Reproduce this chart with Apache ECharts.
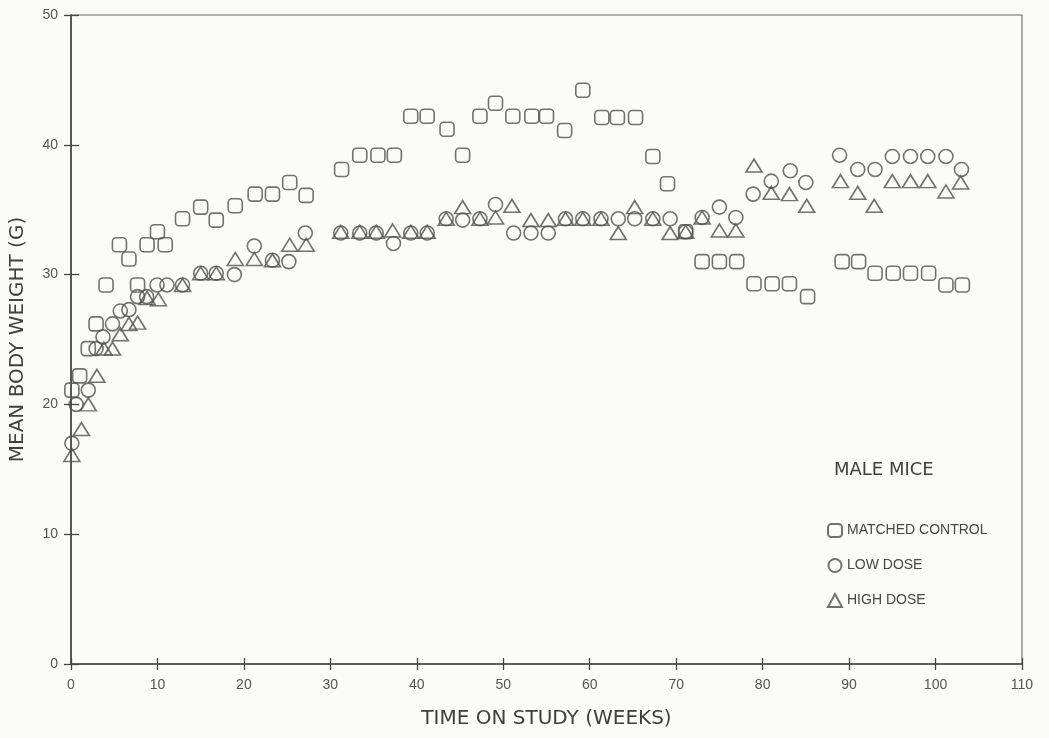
<!DOCTYPE html>
<html>
<head>
<meta charset="utf-8">
<script src="https://cdn.jsdelivr.net/npm/echarts@6/dist/echarts.min.js"></script>
<style>
html,body{margin:0;padding:0;background:#fbfbf8;}
#c{width:1049px;height:738px;}
</style>
</head>
<body>
<div id="c"></div>
<script>
// ---- data (weeks on study, mean body weight in g) ----
const controlWeeks = [0.1,1.0,2.0,2.9,4.05,5.6,6.7,7.7,8.8,10.0,10.9,12.9,15.0,16.8,19.0,21.3,23.3,25.3,27.2,31.3,33.4,35.5,37.4,39.3,41.2,43.5,45.3,47.3,49.1,51.1,53.3,55.0,57.1,59.2,61.4,63.2,65.3,67.3,69.0,71.1,73.0,75.0,77.0,79.0,81.1,83.1,85.2,89.2,91.1,93.0,95.1,97.1,99.2,101.2,103.1];
const controlWeight = [21.1,22.2,24.3,26.2,29.2,32.3,31.2,29.2,32.3,33.3,32.3,34.3,35.2,34.2,35.3,36.2,36.2,37.1,36.1,38.1,39.2,39.2,39.2,42.2,42.2,41.2,39.2,42.2,43.2,42.2,42.2,42.2,41.1,44.2,42.1,42.1,42.1,39.1,37.0,33.3,31.0,31.0,31.0,29.3,29.3,29.3,28.3,31.0,31.0,30.1,30.1,30.1,30.1,29.2,29.2];

const lowWeeks = [0.1,0.6,2.0,2.9,3.7,4.8,5.7,6.7,7.7,8.75,9.95,11.1,12.9,15.0,16.8,18.9,21.2,23.3,25.2,27.1,31.2,33.4,35.3,37.3,39.3,41.2,43.4,45.3,47.3,49.1,51.2,53.2,55.2,57.2,59.2,61.3,63.3,65.2,67.3,69.3,71.1,73.0,75.0,76.9,78.9,81.0,83.2,85.0,88.9,91.0,93.0,95.0,97.1,99.1,101.2,103.0];
const lowWeight = [17.0,20.0,21.1,24.3,25.2,26.2,27.2,27.3,28.3,28.3,29.2,29.2,29.2,30.1,30.1,30.0,32.2,31.1,31.0,33.2,33.2,33.2,33.2,32.4,33.2,33.2,34.3,34.2,34.3,35.4,33.2,33.2,33.2,34.3,34.3,34.3,34.3,34.3,34.3,34.3,33.3,34.4,35.2,34.4,36.2,37.2,38.0,37.1,39.2,38.1,38.1,39.1,39.1,39.1,39.1,38.1];

const highWeeks = [0.1,1.2,2.0,3.0,3.8,4.8,5.7,6.7,7.7,8.8,10.1,12.9,15.0,16.8,19.0,21.2,23.3,25.3,27.2,31.2,33.4,35.3,37.2,39.3,41.2,43.4,45.3,47.3,49.1,51.0,53.2,55.2,57.2,59.2,61.3,63.3,65.2,67.3,69.3,71.1,73.0,75.0,76.9,79.0,81.0,83.1,85.1,89.0,91.0,92.9,95.0,97.1,99.1,101.2,102.9];
const highWeight = [16.1,18.1,20.0,22.2,24.3,24.3,25.4,26.2,26.3,28.2,28.1,29.2,30.1,30.1,31.2,31.2,31.1,32.3,32.3,33.3,33.3,33.3,33.4,33.3,33.3,34.3,35.2,34.3,34.4,35.3,34.2,34.2,34.3,34.3,34.3,33.2,35.2,34.3,33.2,33.3,34.4,33.4,33.4,38.4,36.3,36.2,35.3,37.2,36.3,35.3,37.2,37.2,37.2,36.4,37.1];

const seriesNames = ['MATCHED CONTROL','LOW DOSE','HIGH DOSE'];
const xTicks = {min:0,max:110,interval:10};
const yTicks = {min:0,max:50,interval:10};

const pair = (xs, ys) => xs.map((x, i) => [x, ys[i]]);
const ink = '#505050';
const font = '"Liberation Sans", Arial, sans-serif';
const titleFont = '"DejaVu Sans", "Liberation Sans", sans-serif';

const hollow = {color:'rgba(0,0,0,0)', borderColor: ink, borderWidth: 1.6};

const chart = echarts.init(document.getElementById('c'), null, {renderer:'canvas'});
chart.setOption({
  backgroundColor:'#fbfbf8',
  animation:false,
  title:{
    text:'MALE MICE', left:829, top:456,
    textStyle:{fontFamily:titleFont, fontSize:18, fontWeight:'normal', color:'#404040'}
  },
  legend:{
    orient:'vertical', left:822, top:518, itemGap:20,
    itemWidth:14, itemHeight:13,
    data:seriesNames,
    textStyle:{fontFamily:font, fontSize:14, color:'#474747'}
  },
  grid:{left:71, right:27, top:15, bottom:74, show:true, borderColor:'#666', borderWidth:1.1, backgroundColor:'rgba(0,0,0,0)'},
  xAxis:[{
    type:'value', min:xTicks.min, max:xTicks.max, interval:xTicks.interval,
    name:'TIME ON STUDY (WEEKS)', nameLocation:'middle', nameGap:45,
    nameTextStyle:{fontFamily:titleFont, fontSize:20, fontWeight:'normal', color:'#404040'},
    axisLine:{lineStyle:{color:'#444', width:1.6}},
    axisTick:{length:6, lineStyle:{color:'#444', width:1.3}},
    axisLabel:{fontFamily:font, fontSize:14, color:'#555', margin:14},
    splitLine:{show:false}
  },{
    type:'value', min:xTicks.min, max:xTicks.max, interval:xTicks.interval, position:'bottom',
    axisLine:{show:false}, axisTick:{inside:true, length:6, lineStyle:{color:'#444', width:1.3}},
    axisLabel:{show:false}, splitLine:{show:false}
  }],
  yAxis:[{
    type:'value', min:yTicks.min, max:yTicks.max, interval:yTicks.interval,
    name:'MEAN BODY WEIGHT (G)', nameLocation:'middle', nameGap:43, nameRotate:90,
    nameTextStyle:{fontFamily:titleFont, fontSize:20, fontWeight:'normal', color:'#404040'},
    axisLine:{show:true, lineStyle:{color:'#444', width:1.6}},
    axisTick:{show:true, length:7, lineStyle:{color:'#444', width:1.3}},
    axisLabel:{fontFamily:font, fontSize:14, color:'#555', margin:13},
    splitLine:{show:false}
  },{
    type:'value', min:yTicks.min, max:yTicks.max, interval:yTicks.interval, position:'left',
    axisLine:{show:false}, axisTick:{show:true, inside:true, length:8, lineStyle:{color:'#444', width:1.3}},
    axisLabel:{show:false}, splitLine:{show:false}
  }],
  series:[{
    name:seriesNames[0], type:'scatter', symbol:'roundRect', symbolSize:14,
    itemStyle:hollow, data:pair(controlWeeks, controlWeight)
  },{
    name:seriesNames[1], type:'scatter', symbol:'circle', symbolSize:14,
    itemStyle:hollow, data:pair(lowWeeks, lowWeight)
  },{
    name:seriesNames[2], type:'scatter', symbol:'triangle', symbolSize:[16,13],
    itemStyle:hollow, data:pair(highWeeks, highWeight)
  }]
});
</script>
</body>
</html>
